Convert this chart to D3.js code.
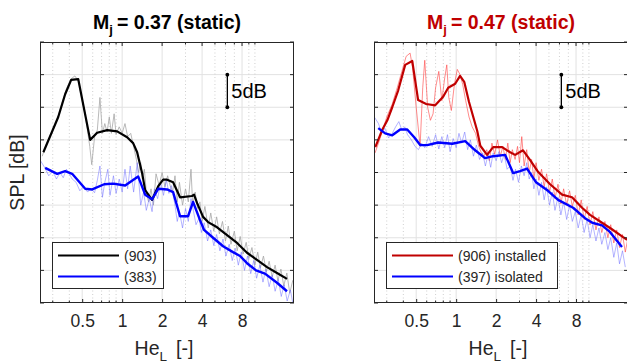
<!DOCTYPE html>
<html>
<head>
<meta charset="utf-8">
<script src="https://cdn.jsdelivr.net/npm/d3@7"></script>
<style>
  body { margin: 0; background: #fff; }
  svg { display: block; }
  text { font-family: "Liberation Sans", Arial, sans-serif; fill: #262626; }
</style>
</head>
<body>
<svg id="chart" width="627" height="363"></svg>
<script>
// ---- data (He_L, relative SPL in dB) ----
const heTicks = [0.5, 1, 2, 4, 8];
const heMinor = [0.3, 0.4, 0.6, 0.7, 0.8, 0.9, 3, 5, 6, 7, 9, 10];
const splGrid = [0, 5, 10, 15, 20, 25, 30, 35, 40];

const smooth903 = [[0.255,23.1],[0.33,28.5],[0.372,32.0],[0.413,34.2],[0.467,34.3],[0.574,25.0],[0.648,26.1],
  [0.771,26.5],[0.917,26.3],[1.09,25.4],[1.21,24.5],[1.297,23.1],[1.414,19.9],[1.49,17.3],[1.68,15.8],[1.87,17.9],
  [2.035,18.9],[2.18,18.9],[2.42,18.5],[2.73,16.2],[3.36,16.4],[3.48,16.6],[3.67,15.3],[4.07,13.2],[4.44,12.4],
  [5.19,11.6],[6.17,10.4],[7.34,9.2],[8.72,7.7],[10.37,6.6],[12.34,5.5],[14.67,4.6],[17.45,3.7]];
const smooth383 = [[0.263,20.7],[0.324,19.8],[0.372,20.2],[0.42,19.8],[0.527,17.5],[0.595,17.4],[0.732,18.2],
  [0.856,18.3],[1.053,18.0],[1.32,19.4],[1.49,16.6],[1.68,15.9],[1.87,17.5],[2.18,17.4],[2.42,17.0],[2.73,13.3],
  [3.14,13.3],[3.42,15.5],[3.86,12.7],[4.14,11.2],[4.84,10.0],[5.76,8.7],[6.84,7.8],[7.73,7.2],[8.72,6.1],
  [10.2,5.0],[11.9,4.5],[14.67,3.1],[17.45,1.8]];
const raw903 = [[0.25,22.5],[0.27,24.5],[0.29,25.8],[0.32,27.8],[0.35,30.5],[0.38,32.8],[0.41,34.3],[0.44,34.8],
  [0.47,34.0],[0.5,31.0],[0.53,28.5],[0.57,24.0],[0.59,21.2],[0.62,25.5],[0.65,26.5],[0.68,31.5],[0.71,26.0],
  [0.74,27.5],[0.77,26.2],[0.8,28.5],[0.83,26.0],[0.87,29.0],[0.9,25.8],[0.95,27.0],[1.0,26.0],[1.05,27.5],
  [1.1,25.5],[1.16,26.0],[1.22,24.0],[1.28,22.0],[1.33,20.0],[1.38,21.5],[1.42,19.0],[1.47,20.5],[1.52,17.0],
  [1.58,15.5],[1.65,17.5],[1.72,15.0],[1.8,19.8],[1.9,18.0],[2.0,20.0],[2.1,17.8],[2.2,19.5],[2.3,18.0],
  [2.4,17.0],[2.5,19.5],[2.6,15.5],[2.7,18.5],[2.85,15.0],[3.0,17.5],[3.15,15.5],[3.3,20.5],[3.4,15.0],
  [3.55,17.0],[3.7,14.5],[3.85,15.5],[4.0,12.5],[4.2,14.8],[4.45,11.5],[4.65,13.8],[4.9,11.0],[5.15,13.2],
  [5.4,10.6],[5.7,12.5],[6.0,9.5],[6.3,11.8],[6.6,9.0],[7.0,11.0],[7.35,8.0],[7.75,10.2],[8.15,7.5],[8.6,9.3],
  [9.0,6.8],[9.5,8.5],[10.0,5.8],[10.5,7.8],[11.0,5.4],[11.6,7.2],[12.2,4.8],[12.8,6.4],[13.5,4.0],[14.2,5.8],
  [14.9,3.4],[15.7,5.2],[16.5,2.6],[17.4,4.6],[18.3,1.5],[19.3,3.5]];
const raw383 = [[0.241,21.9],[0.26,20.8],[0.28,19.5],[0.3,20.2],[0.32,19.0],[0.34,20.0],[0.36,19.2],[0.38,20.5],
  [0.4,19.8],[0.42,19.0],[0.45,18.5],[0.48,17.2],[0.51,17.8],[0.55,17.0],[0.58,17.6],[0.62,16.9],[0.65,18.8],
  [0.68,21.0],[0.71,16.2],[0.74,18.5],[0.78,20.5],[0.81,16.5],[0.86,19.5],[0.9,16.8],[0.95,19.0],[1.0,17.0],
  [1.05,20.5],[1.1,17.5],[1.15,21.0],[1.22,17.0],[1.3,21.5],[1.38,15.0],[1.45,17.0],[1.52,14.2],[1.6,16.0],
  [1.68,14.0],[1.75,17.5],[1.85,16.0],[1.95,18.5],[2.05,16.5],[2.15,19.0],[2.25,16.8],[2.35,18.0],[2.5,15.0],
  [2.6,12.5],[2.7,14.0],[2.85,11.5],[3.0,14.5],[3.15,12.5],[3.3,16.0],[3.45,14.0],[3.6,12.0],[3.8,13.0],
  [3.95,10.8],[4.15,12.3],[4.4,9.5],[4.65,11.2],[4.9,8.8],[5.15,10.5],[5.45,8.0],[5.75,9.8],[6.05,7.2],[6.4,9.0],
  [6.75,6.5],[7.1,8.4],[7.5,5.8],[7.9,7.8],[8.35,5.0],[8.8,7.2],[9.3,4.5],[9.8,6.5],[10.3,3.8],[10.9,5.8],
  [11.5,3.2],[12.1,5.2],[12.8,2.5],[13.5,4.3],[14.2,1.8],[15.0,3.6],[15.8,1.0],[16.6,2.8],[17.5,0.3],[18.5,2.0],
  [19.5,-0.5]];

const smooth906 = [[0.246,23.9],[0.277,26.5],[0.303,28.0],[0.33,30.0],[0.366,32.6],[0.413,36.5],[0.467,37.1],
  [0.517,31.1],[0.595,30.5],[0.695,30.3],[0.798,31.6],[0.871,33.0],[0.983,33.6],[1.07,34.8],[1.15,33.9],
  [1.25,30.8],[1.44,26.4],[1.52,24.1],[1.71,22.7],[1.9,23.9],[2.22,23.9],[2.55,23.1],[2.78,22.7],[3.19,23.4],
  [3.61,21.9],[4.14,20.1],[5.1,18.2],[6.28,16.6],[7.46,16.2],[8.88,14.6],[10.2,13.5],[12.55,12.3],[14.9,11.3],
  [18.1,10.1],[19.4,9.7]];
const smooth397 = [[0.259,26.8],[0.292,26.0],[0.33,25.7],[0.379,26.6],[0.428,26.6],[0.483,25.4],[0.536,24.2],
  [0.605,24.2],[0.732,24.6],[0.933,24.4],[1.17,24.8],[1.39,23.4],[1.65,22.2],[1.9,22.5],[2.34,22.7],[2.69,19.9],
  [3.03,20.2],[3.42,20.6],[4.0,18.5],[4.92,17.2],[5.86,15.8],[7.6,14.6],[9.35,13.0],[10.6,12.3],[12.55,11.9],
  [14.4,10.9],[17.75,8.6]];
const raw906 = [[0.245,23.0],[0.26,24.5],[0.28,26.5],[0.3,28.5],[0.33,30.5],[0.36,33.0],[0.39,35.5],[0.42,37.8],
  [0.45,38.3],[0.47,36.0],[0.5,30.0],[0.535,24.0],[0.56,33.0],[0.58,37.2],[0.61,30.0],[0.64,28.0],[0.67,29.0],
  [0.7,33.0],[0.74,35.5],[0.78,31.0],[0.82,34.5],[0.85,36.5],[0.88,31.5],[0.92,29.5],[0.97,33.5],[1.02,35.8],
  [1.07,35.0],[1.12,33.5],[1.18,31.0],[1.25,28.5],[1.32,27.0],[1.4,26.0],[1.48,24.0],[1.55,23.0],[1.62,22.5],
  [1.7,23.5],[1.78,21.8],[1.86,24.5],[1.95,22.8],[2.05,25.0],[2.15,22.5],[2.25,24.0],[2.35,22.0],[2.45,24.5],
  [2.55,21.5],[2.65,23.5],[2.78,22.0],[2.9,24.0],[3.0,21.5],[3.12,25.5],[3.25,21.0],[3.4,23.5],[3.55,20.0],
  [3.7,22.0],[3.85,19.0],[4.0,21.5],[4.2,18.8],[4.4,20.5],[4.6,17.8],[4.8,19.8],[5.05,17.0],[5.3,19.0],
  [5.55,16.0],[5.85,18.2],[6.15,15.2],[6.45,17.5],[6.8,15.0],[7.15,17.2],[7.5,14.8],[7.9,16.5],[8.3,13.5],
  [8.75,15.8],[9.2,12.8],[9.7,14.8],[10.2,12.0],[10.7,14.0],[11.3,11.2],[11.9,13.2],[12.5,10.8],[13.2,12.5],
  [13.9,10.0],[14.6,12.0],[15.4,9.2],[16.2,11.2],[17.0,8.5],[17.9,10.5],[18.8,7.8],[19.7,10.0]];
const raw397 = [[0.242,28.5],[0.26,27.5],[0.275,26.0],[0.29,26.8],[0.31,25.3],[0.33,26.0],[0.35,27.0],[0.37,27.8],
  [0.39,26.5],[0.41,27.0],[0.43,25.8],[0.46,25.0],[0.49,24.0],[0.52,23.5],[0.55,24.5],[0.58,23.8],[0.62,25.5],
  [0.66,24.0],[0.7,25.8],[0.74,23.6],[0.78,25.5],[0.82,23.8],[0.86,25.8],[0.9,23.2],[0.95,25.2],[1.0,23.8],
  [1.05,26.0],[1.1,24.5],[1.16,26.2],[1.22,23.5],[1.28,25.0],[1.35,22.5],[1.42,24.2],[1.5,22.0],[1.58,23.0],
  [1.66,21.0],[1.74,22.8],[1.82,20.8],[1.9,23.0],[2.0,21.8],[2.1,23.2],[2.2,21.5],[2.3,22.8],[2.42,20.5],
  [2.55,21.0],[2.68,18.8],[2.8,20.5],[2.95,18.5],[3.1,21.0],[3.25,19.5],[3.4,21.5],[3.55,19.0],[3.7,20.0],
  [3.85,17.5],[4.0,19.0],[4.2,16.5],[4.4,18.5],[4.6,15.8],[4.8,17.8],[5.05,15.0],[5.3,17.0],[5.55,14.2],
  [5.85,16.2],[6.15,13.5],[6.45,15.5],[6.8,12.8],[7.15,15.0],[7.5,12.5],[7.9,14.0],[8.3,11.5],[8.75,13.5],
  [9.2,10.8],[9.7,12.8],[10.2,10.0],[10.7,12.0],[11.3,9.5],[11.9,11.5],[12.5,9.0],[13.2,10.8],[13.9,8.2],
  [14.6,10.0],[15.4,7.0],[16.2,9.2],[17.0,6.0],[17.9,8.0],[18.8,5.5]];

// ---- layout ----
const W = 254, H = 261, plotTop = 42;
const svg = d3.select("#chart");

const x = d3.scaleLog().domain([0.2405, 19.7]).range([0, W]);
const y = d3.scaleLinear().domain([0, 40]).range([H, 0]);
const line = d3.line().x(d => x(d[0])).y(d => y(d[1]));

const panels = [
  { left: 40, mach: "0.37", titleColor: "#000000", yLabel: true,
    raw: [{ data: raw903, color: "#a8a8a8", op: 0.8 }, { data: raw383, color: "#6a6aff", op: 0.5 }],
    smooth: [{ data: smooth903, color: "#000000", w: 2.2 }, { data: smooth383, color: "#0000ff", w: 2.4 }],
    legend: { w: 111, items: [{ label: "(903)", color: "#000000" }, { label: "(383)", color: "#0000ff" }] } },
  { left: 374, mach: "0.47", titleColor: "#c00000", yLabel: false,
    raw: [{ data: raw906, color: "#ff4040", op: 0.6 }, { data: raw397, color: "#6a6aff", op: 0.5 }],
    smooth: [{ data: smooth906, color: "#c00000", w: 2.2 }, { data: smooth397, color: "#0000ff", w: 2.4 }],
    legend: { w: 171, items: [{ label: "(906) installed", color: "#c00000" }, { label: "(397) isolated", color: "#0000ff" }] } }
];

const defs = svg.append("defs");

panels.forEach((p, i) => {
  const g = svg.append("g").attr("transform", `translate(${p.left},${plotTop})`);

  defs.append("clipPath").attr("id", "clip" + i)
    .append("rect").attr("width", W).attr("height", H);

  // grid
  g.append("g").selectAll("line").data(splGrid.slice(1, -1)).join("line")
    .attr("x1", 0).attr("x2", W).attr("y1", d => y(d)).attr("y2", d => y(d))
    .attr("stroke", "#e2e2e2").attr("stroke-width", 1);
  g.append("g").selectAll("line").data(heTicks).join("line")
    .attr("x1", d => x(d)).attr("x2", d => x(d)).attr("y1", 0).attr("y2", H)
    .attr("stroke", "#e2e2e2").attr("stroke-width", 1);
  g.append("g").selectAll("line").data(heMinor).join("line")
    .attr("x1", d => x(d)).attr("x2", d => x(d)).attr("y1", 0).attr("y2", H)
    .attr("stroke", "#cfcfcf").attr("stroke-width", 1).attr("stroke-dasharray", "1,2.5");

  // curves
  const curves = g.append("g").attr("clip-path", `url(#clip${i})`);
  p.raw.forEach(s => curves.append("path").datum(s.data).attr("d", line)
    .attr("fill", "none").attr("stroke", s.color).attr("stroke-opacity", s.op).attr("stroke-width", 1));
  p.smooth.forEach(s => curves.append("path").datum(s.data).attr("d", line)
    .attr("fill", "none").attr("stroke", s.color).attr("stroke-width", s.w).attr("stroke-linejoin", "round"));

  // axes box with inward ticks
  const axisColor = "#262626";
  const bottom = g.append("g").attr("transform", `translate(0,${H})`)
    .call(d3.axisBottom(x).tickValues(heTicks).tickSizeInner(-4).tickSizeOuter(0).tickFormat(d3.format("~g")));
  bottom.select(".domain").remove();
  bottom.selectAll("text").attr("dy", 0).attr("y", 23.5).attr("font-size", 17.5)
    .attr("font-family", null).style("fill", axisColor);
  bottom.selectAll("line").attr("stroke", axisColor);
  g.append("g").attr("transform", `translate(0,${H})`).selectAll("line").data(heMinor).join("line")
    .attr("x1", d => x(d)).attr("x2", d => x(d)).attr("y1", 0).attr("y2", -2.5).attr("stroke", axisColor);
  g.append("g").selectAll("line").data(heTicks.concat(heMinor)).join("line")
    .attr("x1", d => x(d)).attr("x2", d => x(d)).attr("y1", 0)
    .attr("y2", d => heTicks.includes(d) ? 4 : 2.5).attr("stroke", axisColor);
  g.append("g").selectAll("line").data(splGrid).join("line")
    .attr("x1", 0).attr("x2", 4).attr("y1", d => y(d)).attr("y2", d => y(d)).attr("stroke", axisColor);
  g.append("g").selectAll("line").data(splGrid).join("line")
    .attr("x1", W - 4).attr("x2", W).attr("y1", d => y(d)).attr("y2", d => y(d)).attr("stroke", axisColor);
  g.append("rect").attr("x", 0.5).attr("y", 0.5).attr("width", W - 1).attr("height", H - 1)
    .attr("fill", "none").attr("stroke", axisColor).attr("stroke-width", 1);

  // 5 dB scale bar
  const sb = g.append("g");
  sb.append("line").attr("x1", x(6.2)).attr("x2", x(6.2)).attr("y1", y(35)).attr("y2", y(30))
    .attr("stroke", "#000").attr("stroke-width", 1.3);
  sb.selectAll("circle").data([30, 35]).join("circle")
    .attr("cx", x(6.2)).attr("cy", d => y(d)).attr("r", 1.9).attr("fill", "#000");
  sb.append("text").attr("x", x(6.2) + 4).attr("y", y(32.5) + 7).attr("font-size", 20).style("fill", "#000")
    .text("5dB");

  // title
  const t = svg.append("text").attr("x", p.left + W / 2).attr("y", 28.5).attr("text-anchor", "middle")
    .attr("font-size", 19.5).attr("font-weight", "bold").style("fill", p.titleColor);
  t.append("tspan").text("M");
  t.append("tspan").attr("dy", 5).attr("font-size", 13).text("j");
  t.append("tspan").attr("dy", -5).attr("dx", 4).text("= " + p.mach + " (static)");

  // x label
  const xl = svg.append("text").attr("x", p.left + W / 2 - 3).attr("y", 355).attr("text-anchor", "middle")
    .attr("font-size", 19.5);
  xl.append("tspan").text("He");
  xl.append("tspan").attr("dy", 6).attr("font-size", 13.5).text("L");
  xl.append("tspan").attr("dy", -6).attr("dx", 9).text("[-]");

  // legend
  const lg = g.append("g").attr("transform", `translate(12,${H - 61})`);
  lg.append("rect").attr("x", 0.5).attr("y", 0.5).attr("width", p.legend.w).attr("height", 46)
    .attr("fill", "#fff").attr("stroke", axisColor).attr("stroke-width", 1);
  p.legend.items.forEach((it, k) => {
    const yy = 13.5 + k * 21;
    lg.append("line").attr("x1", 6).attr("x2", 67).attr("y1", yy).attr("y2", yy)
      .attr("stroke", it.color).attr("stroke-width", 2.2);
    lg.append("text").attr("x", 72).attr("y", yy + 5).attr("font-size", 14).text(it.label);
  });

  if (p.yLabel) {
    svg.append("text").attr("transform", `translate(24,${plotTop + H / 2}) rotate(-90)`)
      .attr("text-anchor", "middle").attr("font-size", 19.5).text("SPL [dB]");
  }
});
</script>
</body>
</html>
